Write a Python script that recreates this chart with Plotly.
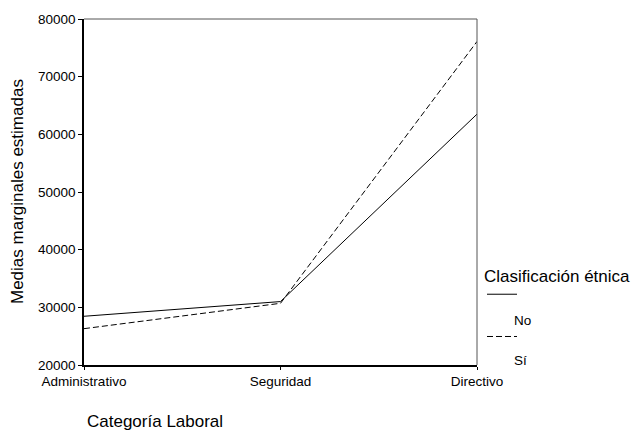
import plotly.graph_objects as go

categorias = ["Administrativo", "Seguridad", "Directivo"]
medias_no = [28450, 31000, 63500]
medias_si = [26300, 30700, 76100]
y_ticks = [20000, 30000, 40000, 50000, 60000, 70000, 80000]
serie_nombres = ["No", "Sí"]

FONT = "Liberation Sans, Arial, sans-serif"
W, H = 632, 431
L, R, T, B = 84, 155, 13, 66
PW, PH = W - L - R, H - T - B


def px(x):
    return (x - L) / PW


def py(y):
    return (H - B - y) / PH


fig = go.Figure()
fig.add_trace(go.Scatter(x=categorias, y=medias_no, mode="lines", name=serie_nombres[0],
                         line=dict(color="black", width=1), showlegend=False))
fig.add_trace(go.Scatter(x=categorias, y=medias_si, mode="lines", name=serie_nombres[1],
                         line=dict(color="black", width=1, dash="6px,3px"), showlegend=False))

fig.update_layout(
    width=W, height=H,
    margin=dict(l=L, r=R, t=T, b=B, pad=0),
    paper_bgcolor="white", plot_bgcolor="white",
    font=dict(family=FONT, color="black", size=13.5),
    xaxis=dict(type="category", range=[0, 2], showgrid=False, zeroline=False,
               showline=True, linecolor="black", linewidth=1.5,
               ticks="outside", ticklen=3, tickcolor="black",
               tickfont=dict(size=13.5)),
    yaxis=dict(range=[20000, 80000], tickvals=y_ticks, tickformat="d",
               showgrid=False, zeroline=False,
               showline=True, linecolor="black", linewidth=1.5,
               ticks="outside", ticklen=4, tickcolor="black",
               tickfont=dict(size=13.5)),
)

# top and right frame lines
fig.add_shape(type="line", xref="paper", yref="paper", x0=0, x1=1, y0=1, y1=1,
              line=dict(color="#555", width=1))
fig.add_shape(type="line", xref="paper", yref="paper", x0=1, x1=1, y0=0, y1=1,
              line=dict(color="#555", width=1))

# axis titles
fig.add_annotation(text="Medias marginales estimadas", xref="paper", yref="paper",
                   x=px(17), y=0.5, textangle=-90, showarrow=False,
                   xanchor="center", yanchor="middle", font=dict(size=17))
fig.add_annotation(text="Categoría Laboral", xref="paper", yref="paper",
                   x=px(85), y=py(422), showarrow=False,
                   xanchor="left", yanchor="middle", font=dict(size=17))

# legend
fig.add_annotation(text="Clasificación étnica", xref="paper", yref="paper",
                   x=px(482), y=py(275), showarrow=False,
                   xanchor="left", yanchor="middle", font=dict(size=17))
fig.add_shape(type="line", xref="paper", yref="paper", x0=px(487), x1=px(517),
              y0=py(293), y1=py(293), line=dict(color="black", width=1))
fig.add_annotation(text=serie_nombres[0], xref="paper", yref="paper",
                   x=px(512), y=py(320), showarrow=False,
                   xanchor="left", yanchor="middle", font=dict(size=13.5))
fig.add_shape(type="line", xref="paper", yref="paper", x0=px(487), x1=px(517),
              y0=py(336), y1=py(336), line=dict(color="black", width=1, dash="6px,3px"))
fig.add_annotation(text=serie_nombres[1], xref="paper", yref="paper",
                   x=px(512), y=py(360), showarrow=False,
                   xanchor="left", yanchor="middle", font=dict(size=13.5))

fig.write_html("out.html", config={"displayModeBar": False},
               post_script="document.body.style.margin='0';document.body.style.overflow='hidden';")
